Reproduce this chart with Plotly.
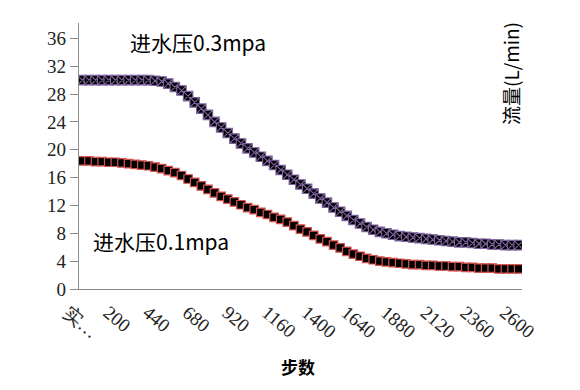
import plotly.graph_objects as go

categories = ["实…"] + [str(40 * k) for k in range(66)]

flow_03 = [30.0, 30.0, 30.0, 30.0, 30.0, 30.0, 30.0, 30.0, 30.0, 30.0,
           30.0, 29.9, 29.8, 29.5, 29.0, 28.5, 27.7, 26.8, 25.9, 25.0,
           24.0, 23.2, 22.4, 21.6, 20.9, 20.2, 19.6, 19.0, 18.4, 17.8,
           17.1, 16.4, 15.7, 15.0, 14.4, 13.7, 13.0, 12.4, 11.7, 11.1,
           10.5, 9.9, 9.4, 8.9, 8.5, 8.2, 8.0, 7.8, 7.6, 7.5,
           7.4, 7.3, 7.2, 7.1, 7.0, 6.9, 6.8, 6.7, 6.7, 6.6,
           6.5, 6.5, 6.4, 6.4, 6.3, 6.3, 6.3]

flow_01 = [18.4, 18.4, 18.3, 18.3, 18.2, 18.2, 18.1, 18.0, 17.9, 17.8,
           17.7, 17.5, 17.3, 17.0, 16.7, 16.3, 15.8, 15.3, 14.8, 14.3,
           13.8, 13.3, 12.9, 12.5, 12.1, 11.7, 11.4, 11.0, 10.7, 10.3,
           10.0, 9.6, 9.1, 8.6, 8.2, 7.7, 7.2, 6.8, 6.3, 5.9,
           5.4, 5.0, 4.7, 4.4, 4.2, 4.0, 3.9, 3.8, 3.7, 3.6,
           3.5, 3.5, 3.4, 3.4, 3.3, 3.3, 3.2, 3.2, 3.1, 3.1,
           3.0, 3.0, 3.0, 2.9, 2.9, 2.9, 2.9]

tick_labels = categories[::6]
y_ticks = list(range(0, 37, 4))

fig = go.Figure()
fig.add_trace(go.Scatter(
    x=categories, y=flow_01, mode="markers", name="进水压0.1mpa",
    marker=dict(symbol="square", size=8.5, color="black",
                line=dict(color="#d9534f", width=1.2)),
))
fig.add_trace(go.Scatter(
    x=categories, y=flow_03, mode="markers", name="进水压0.3mpa",
    marker=dict(symbol="square-x", size=9.5, color="black",
                line=dict(color="#8064a2", width=1.1)),
))

axis_col = "#8c8c8c"
tick_font = dict(family="Liberation Serif, DejaVu Serif, serif", size=19, color="#222")

OFF = 8  # page body margin
W, H = 572, 382
L, T = 79 - OFF, 23 - OFF
R = W - (522 - OFF)
B = H - (289 - OFF)
pw = W - L - R
ph = H - T - B


def px(xp):
    return (xp - OFF - L) / pw


def py(yp):
    return (H - B - (yp - OFF)) / ph


fig.update_layout(
    width=W, height=H,
    margin=dict(l=L, r=R, t=T, b=B),
    plot_bgcolor="white", paper_bgcolor="white",
    showlegend=False,
    xaxis=dict(
        type="category", categoryorder="array", categoryarray=categories,
        range=[-0.5, len(categories) - 0.5], automargin=False,
        tickmode="array", tickvals=tick_labels, ticktext=tick_labels,
        tickangle=40, tickfont=tick_font, ticks="", ticklabelshift=-14,
        ticklabelstandoff=4,
        showline=True, linecolor=axis_col, linewidth=1.3,
        showgrid=False, zeroline=False,
    ),
    yaxis=dict(
        range=[0, 38.2], tickmode="array", tickvals=y_ticks, automargin=False,
        tickfont=tick_font, ticks="outside", ticklen=8, tickcolor=axis_col,
        showline=True, linecolor=axis_col, linewidth=1.3,
        showgrid=False, zeroline=False,
    ),
    annotations=[
        dict(text="进水压0.3mpa", x=px(128), y=py(42), xref="paper", yref="paper",
             xanchor="left", yanchor="middle", showarrow=False,
             font=dict(family="Noto Sans CJK SC", size=21, color="black")),
        dict(text="进水压0.1mpa", x=px(91), y=py(241), xref="paper", yref="paper",
             xanchor="left", yanchor="middle", showarrow=False,
             font=dict(family="Noto Sans CJK SC", size=21, color="black")),
        dict(text="流量(L/min)", x=px(510), y=py(74), xref="paper", yref="paper",
             xanchor="center", yanchor="middle", showarrow=False, textangle=-90,
             font=dict(family="Noto Sans CJK SC", size=19, color="black")),
        dict(text="<b>步数</b>", x=px(298), y=py(366), xref="paper", yref="paper",
             xanchor="center", yanchor="middle", showarrow=False,
             font=dict(family="Noto Sans CJK SC", size=17, color="black")),
    ],
)

fig.write_html("out.html")
